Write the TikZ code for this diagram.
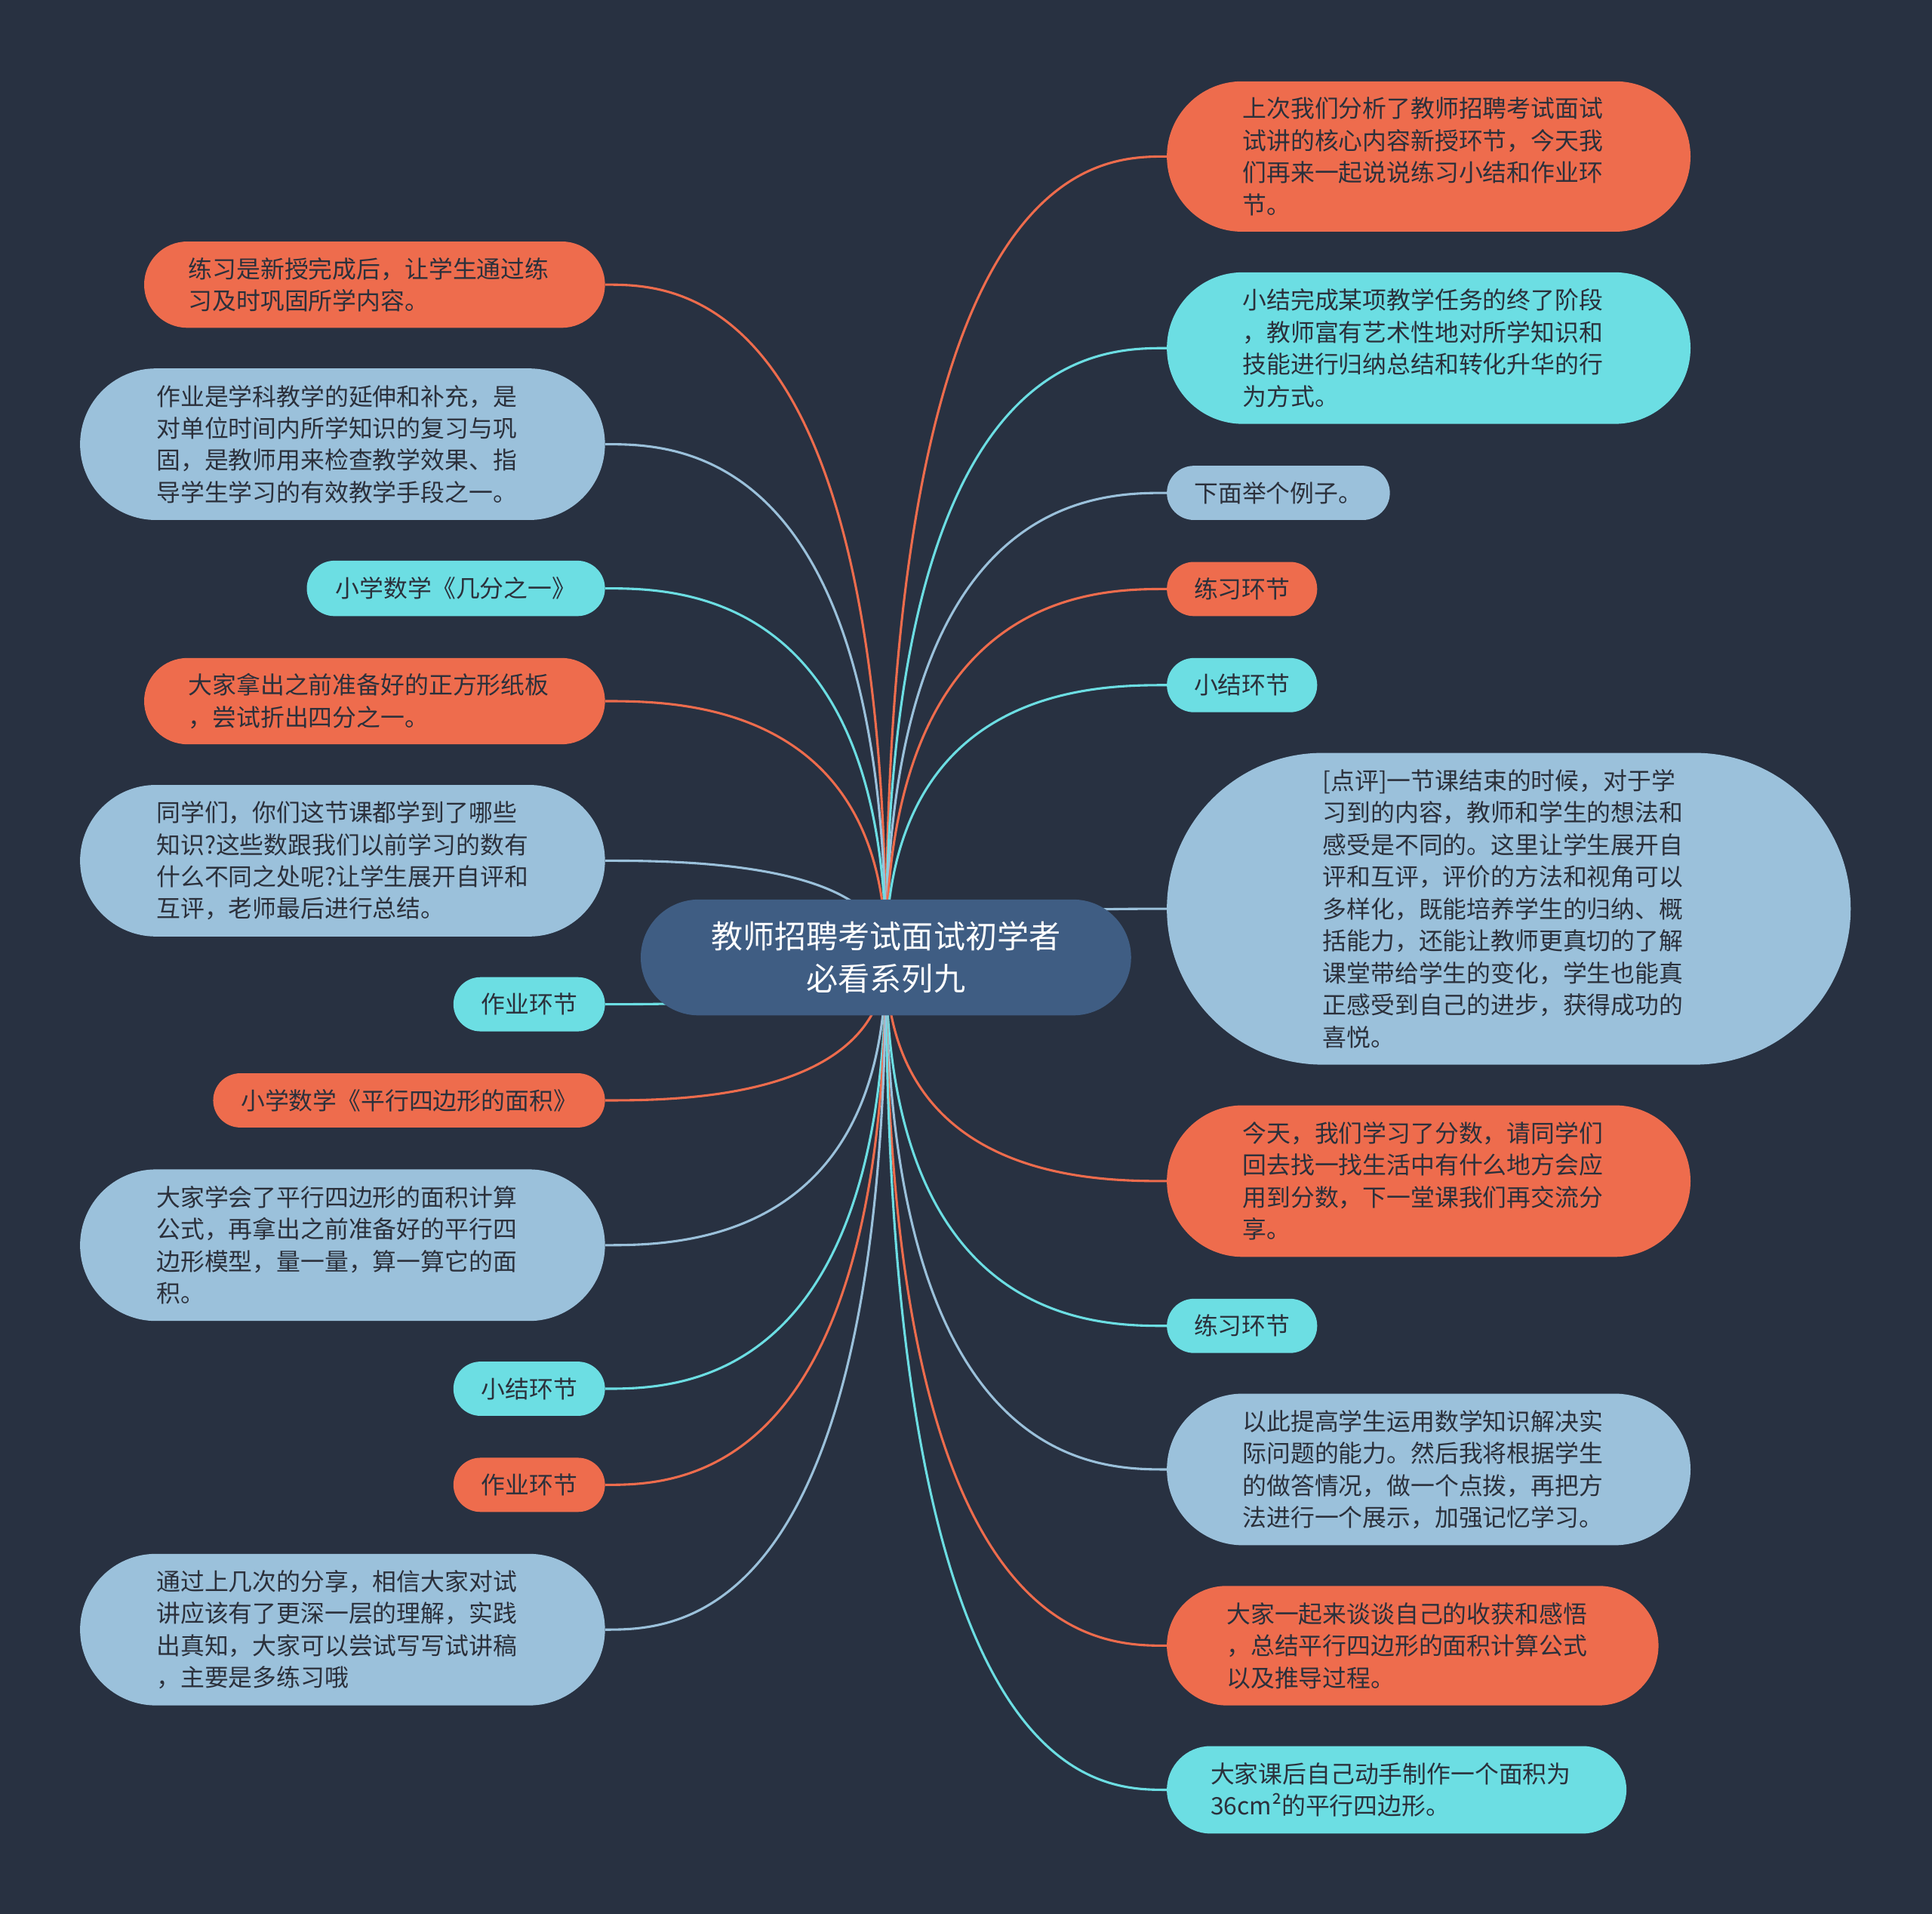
\documentclass[tikz,border=0pt]{standalone}
\usepackage{fontspec}
\setmainfont{Noto Sans CJK SC}
\usetikzlibrary{calc}
\definecolor{bgc}{HTML}{283141}
\definecolor{orC}{HTML}{EE6C4D}
\definecolor{cyC}{HTML}{6CDEE3}
\definecolor{lbC}{HTML}{9BC1DB}
\definecolor{ctC}{HTML}{3F5D83}
\definecolor{txC}{HTML}{2B303B}
\pgfdeclarelayer{bg}
\pgfdeclarelayer{lines}
\pgfsetlayers{bg,lines,main}
\tikzset{
  leaf/.style n args={3}{text=txC, font=\fontsize{19.5}{26}\selectfont, align=left, inner sep=0pt,
     minimum width=#1pt, minimum height=#2pt, rounded corners=#3pt},
  multi/.style={text width=302pt},
  conn/.style={line width=1.9pt, to path={let \p1=(\tikztostart), \p2=(\tikztotarget) in
     .. controls (\x1,\y2) and ({\x1+0.75*(\x2-\x1)},\y2) .. (\tikztotarget)}}
}
\begin{document}
\begin{tikzpicture}[x=1pt,y=-1pt]
\useasboundingbox (0,0) rectangle (1568,1553);
\begin{pgfonlayer}{bg}
\fill[bgc] (0,0) rectangle (1568,1553);
\end{pgfonlayer}

% center
\node[fill=ctC, text=white, font=\fontsize{25.8}{34}\selectfont, align=center, inner sep=0pt,
  minimum width=398pt, minimum height=94pt, rounded corners=47pt] (c) at (719,777)
  {教师招聘考试面试初学者\\必看系列九};

% right side
\node[leaf={425}{122}{61}, multi, fill=orC] (r1) at (1159.5,127)
  {上次我们分析了教师招聘考试面试\\试讲的核心内容新授环节，今天我\\们再来一起说说练习小结和作业环\\节。};
\node[leaf={425}{123}{61.5}, multi, fill=cyC] (r2) at (1159.5,282.5)
  {小结完成某项教学任务的终了阶段\\，教师富有艺术性地对所学知识和\\技能进行归纳总结和转化升华的行\\为方式。};
\node[leaf={181}{44}{22}, fill=lbC] (r3) at (1037.5,400) {下面举个例子。};
\node[leaf={122}{44}{22}, fill=orC] (r4) at (1008,478) {练习环节};
\node[leaf={122}{44}{22}, fill=cyC] (r5) at (1008,556) {小结环节};
\node[leaf={555}{253}{126.5}, multi, fill=lbC] (r6) at (1224.5,737.5)
  {[点评]一节课结束的时候，对于学\\习到的内容，教师和学生的想法和\\感受是不同的。这里让学生展开自\\评和互评，评价的方法和视角可以\\多样化，既能培养学生的归纳、概\\括能力，还能让教师更真切的了解\\课堂带给学生的变化，学生也能真\\正感受到自己的进步，获得成功的\\喜悦。};
\node[leaf={425}{123}{61.5}, multi, fill=orC] (r7) at (1159.5,958.5)
  {今天，我们学习了分数，请同学们\\回去找一找生活中有什么地方会应\\用到分数，下一堂课我们再交流分\\享。};
\node[leaf={122}{44}{22}, fill=cyC] (r8) at (1008,1076) {练习环节};
\node[leaf={425}{123}{61.5}, multi, fill=lbC] (r9) at (1159.5,1192.5)
  {以此提高学生运用数学知识解决实\\际问题的能力。然后我将根据学生\\的做答情况，做一个点拨，再把方\\法进行一个展示，加强记忆学习。};
\node[leaf={399}{97}{48.5}, multi, fill=orC] (r10) at (1146.5,1335.5)
  {大家一起来谈谈自己的收获和感悟\\，总结平行四边形的面积计算公式\\以及推导过程。};
\node[leaf={373}{71}{35.5}, multi, fill=cyC] (r11) at (1133.5,1452.5)
  {大家课后自己动手制作一个面积为\\36cm²的平行四边形。};

% left side
\node[leaf={374}{70}{35}, multi, fill=orC] (l1) at (304,231)
  {练习是新授完成后，让学生通过练\\习及时巩固所学内容。};
\node[leaf={426}{123}{61.5}, multi, fill=lbC] (l2) at (278,360.5)
  {作业是学科教学的延伸和补充，是\\对单位时间内所学知识的复习与巩\\固，是教师用来检查教学效果、指\\导学生学习的有效教学手段之一。};
\node[leaf={242}{45}{22.5}, fill=cyC] (l3) at (370,477.5) {小学数学《几分之一》};
\node[leaf={374}{70}{35}, multi, fill=orC] (l4) at (304,569)
  {大家拿出之前准备好的正方形纸板\\，尝试折出四分之一。};
\node[leaf={426}{123}{61.5}, multi, fill=lbC] (l5) at (278,698.5)
  {同学们，你们这节课都学到了哪些\\知识?这些数跟我们以前学习的数有\\什么不同之处呢?让学生展开自评和\\互评，老师最后进行总结。};
\node[leaf={123}{44}{22}, fill=cyC] (l6) at (429.5,815) {作业环节};
\node[leaf={318}{44}{22}, fill=orC] (l7) at (332,893) {小学数学《平行四边形的面积》};
\node[leaf={426}{123}{61.5}, multi, fill=lbC] (l8) at (278,1010.5)
  {大家学会了平行四边形的面积计算\\公式，再拿出之前准备好的平行四\\边形模型，量一量，算一算它的面\\积。};
\node[leaf={123}{44}{22}, fill=cyC] (l9) at (429.5,1127) {小结环节};
\node[leaf={123}{44}{22}, fill=orC] (l10) at (429.5,1205) {作业环节};
\node[leaf={426}{123}{61.5}, multi, fill=lbC] (l11) at (278,1322.5)
  {通过上几次的分享，相信大家对试\\讲应该有了更深一层的理解，实践\\出真知，大家可以尝试写写试讲稿\\，主要是多练习哦};

\begin{pgfonlayer}{lines}
\draw[conn, orC] (c.center) to (r1.west);
\draw[conn, cyC] (c.center) to (r2.west);
\draw[conn, lbC] (c.center) to (r3.west);
\draw[conn, orC] (c.center) to (r4.west);
\draw[conn, cyC] (c.center) to (r5.west);
\draw[conn, lbC] (c.center) to (r6.west);
\draw[conn, orC] (c.center) to (r7.west);
\draw[conn, cyC] (c.center) to (r8.west);
\draw[conn, lbC] (c.center) to (r9.west);
\draw[conn, orC] (c.center) to (r10.west);
\draw[conn, cyC] (c.center) to (r11.west);
\draw[conn, orC] (c.center) to (l1.east);
\draw[conn, lbC] (c.center) to (l2.east);
\draw[conn, cyC] (c.center) to (l3.east);
\draw[conn, orC] (c.center) to (l4.east);
\draw[conn, lbC] (c.center) to (l5.east);
\draw[conn, cyC] (c.center) to (l6.east);
\draw[conn, orC] (c.center) to (l7.east);
\draw[conn, lbC] (c.center) to (l8.east);
\draw[conn, cyC] (c.center) to (l9.east);
\draw[conn, orC] (c.center) to (l10.east);
\draw[conn, lbC] (c.center) to (l11.east);
\end{pgfonlayer}
\end{tikzpicture}
\end{document}
